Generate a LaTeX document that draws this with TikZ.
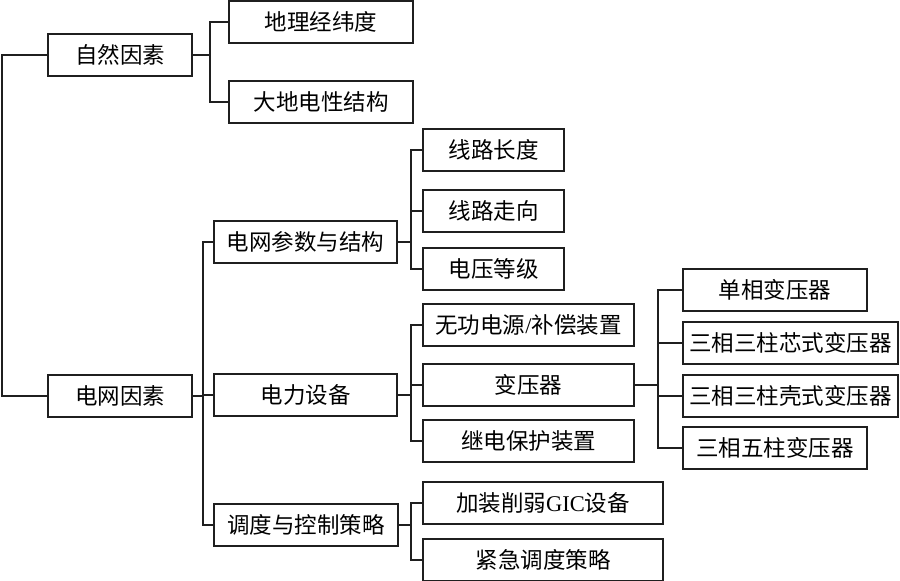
\documentclass[tikz,border=0pt]{standalone}
\usepackage{fontspec}
\setmainfont{Noto Sans CJK SC}
\newfontfamily\lat{Liberation Serif}
\begin{document}
\begin{tikzpicture}[x=1pt,y=-1pt,
  box/.style={draw=black!88, line width=2pt, rectangle, minimum height=42pt, inner sep=0pt, font=\fontsize{22.5}{25}\selectfont},
  link/.style={draw=black!88, line width=2pt}]
\useasboundingbox (0,0) rectangle (900,581);
% level 1
\node[box, minimum width=144pt] (nat) at (120,55) {自然因素};
\node[box, minimum width=144pt] (grid) at (120,396) {电网因素};
% level 2
\node[box, minimum width=184pt] (geo) at (321,21.5) {地理经纬度};
\node[box, minimum width=184pt] (earth) at (321,102) {大地电性结构};
\node[box, minimum width=183pt] (par) at (305.5,241.5) {电网参数与结构};
\node[box, minimum width=183pt] (dev) at (305.5,395) {电力设备};
\node[box, minimum width=184pt] (ctl) at (306,525) {调度与控制策略};
% level 3
\node[box, minimum width=141pt] (len) at (493.5,150) {线路长度};
\node[box, minimum width=141pt] (dir) at (493.5,211) {线路走向};
\node[box, minimum width=141pt] (volt) at (493.5,269) {电压等级};
\node[box, minimum width=211pt] (reac) at (528.5,325) {无功电源{\lat /}补偿装置};
\node[box, minimum width=211pt] (tran) at (528.5,385) {变压器};
\node[box, minimum width=211pt] (prot) at (528.5,441) {继电保护装置};
\node[box, minimum width=240pt] (gic) at (543,502.5) {加装削弱{\lat GIC}设备};
\node[box, minimum width=240pt] (emer) at (543,559.5) {紧急调度策略};
% level 4
\node[box, minimum width=184pt] (t1) at (775,290) {单相变压器};
\node[box, minimum width=215pt] (t2) at (790.5,343) {三相三柱芯式变压器};
\node[box, minimum width=215pt] (t3) at (790.5,396) {三相三柱壳式变压器};
\node[box, minimum width=184pt] (t4) at (775,448) {三相五柱变压器};
% bracket coordinates
\coordinate (r) at (2,0);
\coordinate (bn) at (210,0);
\coordinate (bg) at (203,0);
\coordinate (bp) at (410.5,0);
\coordinate (bt) at (658,0);
% connectors
\draw[link] (nat.west) -- (nat.west -| r) |- (grid.west);
\foreach \c in {geo,earth} \draw[link] (nat.east) -- (nat.east -| bn) |- (\c.west);
\foreach \c in {par,dev,ctl} \draw[link] (grid.east) -- (grid.east -| bg) |- (\c.west);
\foreach \c in {len,dir,volt} \draw[link] (par.east) -- (par.east -| bp) |- (\c.west);
\foreach \c in {reac,tran,prot} \draw[link] (dev.east) -- (dev.east -| bp) |- (\c.west);
\foreach \c in {gic,emer} \draw[link] (ctl.east) -- (ctl.east -| bp) |- (\c.west);
\foreach \c in {t1,t2,t3,t4} \draw[link] (tran.east) -- (tran.east -| bt) |- (\c.west);
\end{tikzpicture}
\end{document}
